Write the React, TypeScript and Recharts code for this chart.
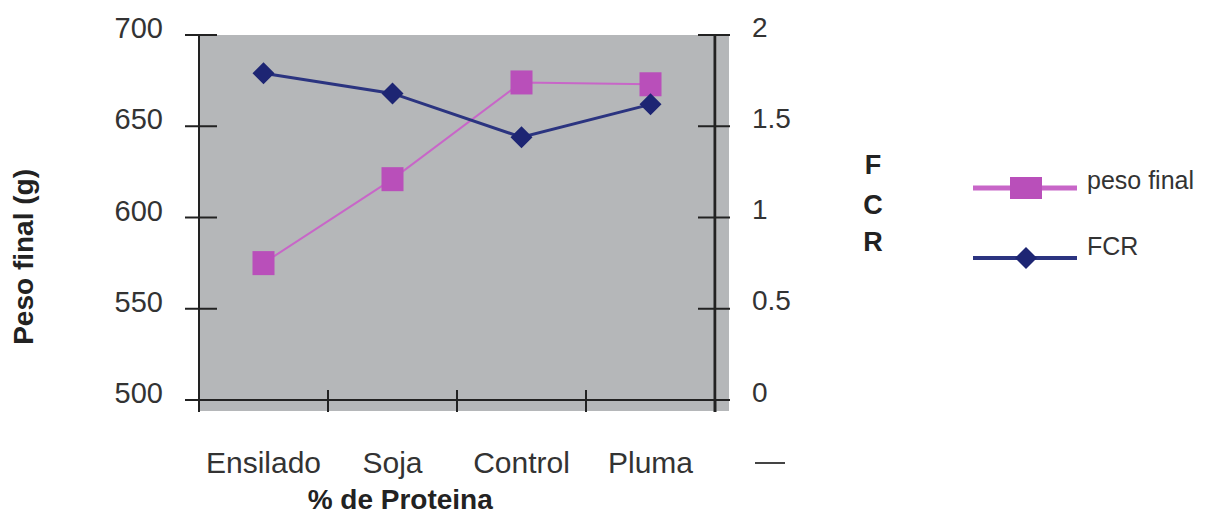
import { LineChart, Line, XAxis, YAxis, CartesianGrid, Legend } from "recharts";

const categories = ["Ensilado", "Soja", "Control", "Pluma"];
const pesoFinal = [575, 621, 674, 673];
const fcr = [1.79, 1.68, 1.44, 1.62];
const pesoTicks = [500, 550, 600, 650, 700];
const fcrTicks = [0, 0.5, 1, 1.5, 2];
const seriesOrder = ["peso", "fcr"];

const data = categories.map((c, i) => ({ name: c, peso: pesoFinal[i], fcr: fcr[i] }));

const W = 1210;
const H = 510;
const PLOT_LEFT = 191;
const PLOT_RIGHT = 707;
const PLOT_TOP = 27;
const PLOT_BOTTOM = 392;
const HALF_BAND = (PLOT_RIGHT - PLOT_LEFT) / categories.length / 2;

const FONT = "'Liberation Sans', Arial, sans-serif";
const TEXT = "#333";
const AXIS = "#222";
const BG = "#b5b7b9";
const PINK = "#b94fba";
const PINK_LINE = "#c866c8";
const NAVY = "#1d2573";
const NAVY_LINE = "#2b3480";

function LeftTick(p: any) {
  return (
    <g>
      <line x1={p.x - 14} x2={p.x + 18} y1={p.y} y2={p.y} stroke={AXIS} strokeWidth={2} />
      <text x={p.x - 36} y={p.y - 7} textAnchor="end" dominantBaseline="central" fontSize={29} fill={TEXT} fontFamily={FONT}>
        {p.payload.value}
      </text>
    </g>
  );
}

function RightTick(p: any) {
  return (
    <g>
      {p.index === 0 && (
        <g>
          <rect x={p.x + 2} y={PLOT_TOP} width={12} height={PLOT_BOTTOM - PLOT_TOP + 11} fill={BG} />
          <line x1={p.x} x2={p.x} y1={p.y} y2={p.y + 12} stroke={AXIS} strokeWidth={3} />
        </g>
      )}
      <line x1={p.x - 17} x2={p.x + 15} y1={p.y} y2={p.y} stroke={AXIS} strokeWidth={2} />
      <text x={p.x + 37} y={p.y - 8} textAnchor="start" dominantBaseline="central" fontSize={28} fill={TEXT} fontFamily={FONT}>
        {p.payload.value}
      </text>
    </g>
  );
}

function BottomTick(p: any) {
  return (
    <g>
      {p.index === 0 && (
        <g>
          <rect x={PLOT_LEFT} y={p.y + 1} width={PLOT_RIGHT - PLOT_LEFT + 14} height={10} fill={BG} />
          <line x1={PLOT_LEFT} x2={PLOT_LEFT} y1={p.y} y2={p.y + 12} stroke={AXIS} strokeWidth={2} />
        </g>
      )}
      {p.index > 0 && (
        <line x1={p.x - HALF_BAND} x2={p.x - HALF_BAND} y1={p.y - 10} y2={p.y + 12} stroke={AXIS} strokeWidth={2} />
      )}
      <text x={p.x} y={p.y + 62} textAnchor="middle" dominantBaseline="central" fontSize={30} fill={TEXT} fontFamily={FONT}>
        {p.payload.value}
      </text>
    </g>
  );
}

function SquareDot(p: any) {
  if (p.cx == null || p.cy == null) return <g key={p.index} />;
  return <rect key={p.index} x={p.cx - 11} y={p.cy - 12} width={22} height={24} fill={PINK} />;
}

function DiamondDot(p: any) {
  if (p.cx == null || p.cy == null) return <g key={p.index} />;
  const r = 11;
  return (
    <path
      key={p.index}
      d={`M${p.cx},${p.cy - r}L${p.cx + r},${p.cy}L${p.cx},${p.cy + r}L${p.cx - r},${p.cy}Z`}
      fill={NAVY}
    />
  );
}

function LegendContent(props: any) {
  const items = [...(props.payload || [])].sort(
    (a: any, b: any) => seriesOrder.indexOf(a.dataKey) - seriesOrder.indexOf(b.dataKey)
  );
  return (
    <svg width={230} height={120} style={{ display: "block" }}>
      {items.map((it: any, i: number) => {
        const isPeso = it.dataKey === "peso";
        const y = 30 + i * 70;
        return (
          <g key={i}>
            <line x1={0} x2={104} y1={y} y2={y} stroke={isPeso ? PINK_LINE : NAVY_LINE} strokeWidth={isPeso ? 5 : 4} />
            {isPeso ? (
              <rect x={37} y={y - 11} width={32} height={22} fill={PINK} />
            ) : (
              <path d={`M53,${y - 11}L64,${y}L53,${y + 11}L42,${y}Z`} fill={NAVY} />
            )}
            <text x={114} y={y + (isPeso ? 1 : -3)} fontSize={25} fill={TEXT} fontFamily={FONT}>
              {it.value}
            </text>
          </g>
        );
      })}
    </svg>
  );
}

export default function App() {
  return (
    <div style={{ width: W, height: H, background: "#fff" }}>
      <LineChart width={W} height={H} data={data} margin={{ top: PLOT_TOP, right: 15, bottom: 28, left: 11 }}>
        <CartesianGrid fill={BG} stroke="none" horizontal={false} vertical={false} />
        <XAxis
          dataKey="name"
          scale="band"
          height={90}
          tickSize={0}
          tickMargin={0}
          axisLine={{ stroke: AXIS, strokeWidth: 2 }}
          tick={BottomTick}
          interval={0}
          label={(lp: any) => {
            const vb = lp.viewBox || {};
            return (
              <text
                x={vb.x + vb.width * 0.39}
                y={vb.y + 99}
                textAnchor="middle"
                dominantBaseline="central"
                fontSize={28}
                fontWeight="bold"
                fill="#222"
                fontFamily={FONT}
              >
                % de Proteina
              </text>
            );
          }}
        />
        <YAxis
          yAxisId="left"
          width={180}
          domain={[500, 700]}
          ticks={pesoTicks}
          tickSize={0}
          tickMargin={0}
          axisLine={{ stroke: AXIS, strokeWidth: 2 }}
          tick={LeftTick}
          label={(lp: any) => {
            const vb = lp.viewBox || {};
            const cx = 16;
            const cy = vb.y + vb.height * 0.608;
            return (
              <text
                x={cx}
                y={cy}
                transform={`rotate(-90 ${cx} ${cy})`}
                textAnchor="middle"
                dominantBaseline="central"
                fontSize={28}
                fontWeight="bold"
                fill="#222"
                fontFamily={FONT}
              >
                Peso final (g)
              </text>
            );
          }}
        />
        <YAxis
          yAxisId="right"
          orientation="right"
          width={258}
          domain={[0, 2]}
          ticks={fcrTicks}
          tickSize={0}
          tickMargin={0}
          axisLine={{ stroke: AXIS, strokeWidth: 3 }}
          tick={RightTick}
          label={(lp: any) => {
            const vb = lp.viewBox || {};
            const x = vb.x + 158;
            return (
              <g fontFamily={FONT} fontWeight="bold" fontSize={27} fill="#222">
                <text x={x} y={157} textAnchor="middle" dominantBaseline="central">F</text>
                <text x={x} y={197} textAnchor="middle" dominantBaseline="central">C</text>
                <text x={x} y={234} textAnchor="middle" dominantBaseline="central">R</text>
                <line x1={vb.x + 40} x2={vb.x + 70} y1={vb.y + vb.height + 63} y2={vb.y + vb.height + 63} stroke="#444" strokeWidth={2} />
              </g>
            );
          }}
        />
        <Legend
          layout="vertical"
          align="right"
          verticalAlign="top"
          content={LegendContent}
          wrapperStyle={{ top: 150 }}
        />
        <Line
          yAxisId="left"
          dataKey="peso"
          name="peso final"
          stroke={PINK_LINE}
          strokeWidth={2}
          dot={SquareDot}
          activeDot={false}
          isAnimationActive={false}
        />
        <Line
          yAxisId="right"
          dataKey="fcr"
          name="FCR"
          stroke={NAVY_LINE}
          strokeWidth={3}
          dot={DiamondDot}
          activeDot={false}
          isAnimationActive={false}
        />
      </LineChart>
    </div>
  );
}
